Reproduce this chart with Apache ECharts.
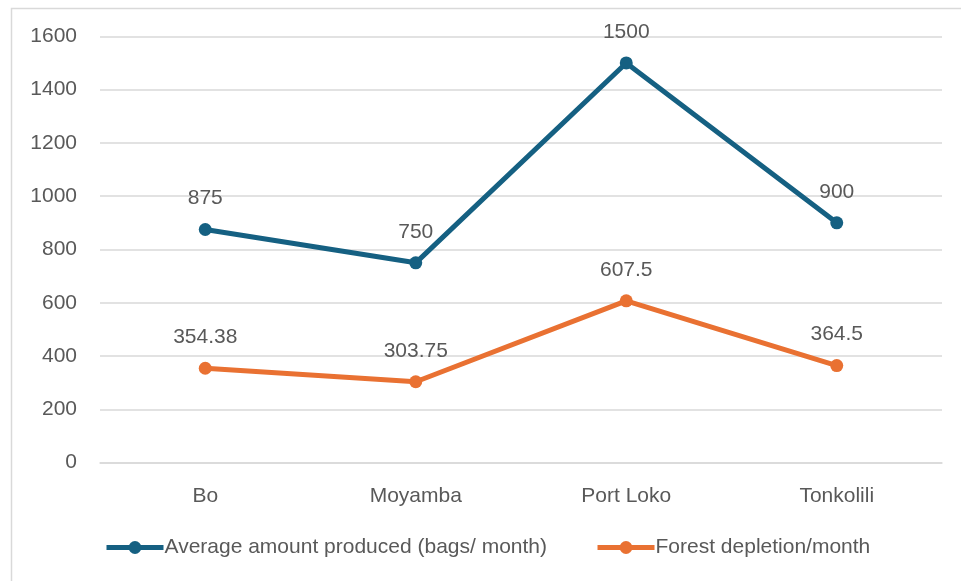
<!DOCTYPE html>
<html>
<head>
<meta charset="utf-8">
<script src="https://cdn.jsdelivr.net/npm/echarts@6/dist/echarts.min.js"></script>
<style>
html,body{margin:0;padding:0;background:#fff;}
#chart{width:961px;height:581px;}
</style>
</head>
<body>
<div id="chart"></div>
<script>
var categories = ['Bo', 'Moyamba', 'Port Loko', 'Tonkolili'];
var avgProduced = [875, 750, 1500, 900];
var forestDepletion = [354.38, 303.75, 607.5, 364.5];
var seriesNames = ['Average amount produced (bags/ month)', 'Forest depletion/month'];

var textColor = '#595959';
var font = 'Liberation Sans, Arial, sans-serif';

var chart = echarts.init(document.getElementById('chart'), null, {renderer: 'canvas'});
chart.setOption({
  animation: false,
  backgroundColor: '#ffffff',
  grid: {left: 100, right: 19, top: 36.3, bottom: 118.3, containLabel: false},
  graphic: [{
    type: 'rect',
    shape: {x: 11.5, y: 8.5, width: 2000, height: 2000},
    style: {fill: 'none', stroke: '#d9d9d9', lineWidth: 1.5},
    silent: true, z: -1
  }],
  legend: {
    left: 104, top: 537, padding: 0,
    itemWidth: 57, itemHeight: 16, itemGap: 48,
    lineStyle: {width: 5},
    textStyle: {color: textColor, fontSize: 21, fontFamily: font, padding: [0, 0, 0, -4]},
    data: seriesNames
  },
  xAxis: {
    type: 'category',
    data: categories,
    boundaryGap: true,
    axisLine: {show: true, lineStyle: {color: '#d9d9d9', width: 1.5}},
    axisTick: {show: false},
    axisLabel: {color: textColor, fontSize: 21, fontFamily: font, margin: 23}
  },
  yAxis: {
    type: 'value',
    min: 0, max: 1600, interval: 200,
    axisLine: {show: false},
    axisTick: {show: false},
    splitLine: {lineStyle: {color: '#d9d9d9', width: 1.5}},
    axisLabel: {color: textColor, fontSize: 21, fontFamily: font, margin: 23,
      formatter: function (v) { return String(v); }}
  },
  series: [{
    name: seriesNames[0],
    type: 'line',
    data: avgProduced,
    color: '#156082',
    symbol: 'circle', symbolSize: 13,
    lineStyle: {width: 5, color: '#156082'},
    itemStyle: {color: '#156082'},
    label: {show: true, position: 'top', distance: 14, color: textColor, fontSize: 21, fontFamily: font}
  }, {
    name: seriesNames[1],
    type: 'line',
    data: forestDepletion,
    color: '#E97132',
    symbol: 'circle', symbolSize: 13,
    lineStyle: {width: 5, color: '#E97132'},
    itemStyle: {color: '#E97132'},
    label: {show: true, position: 'top', distance: 14, color: textColor, fontSize: 21, fontFamily: font}
  }]
});
</script>
</body>
</html>
